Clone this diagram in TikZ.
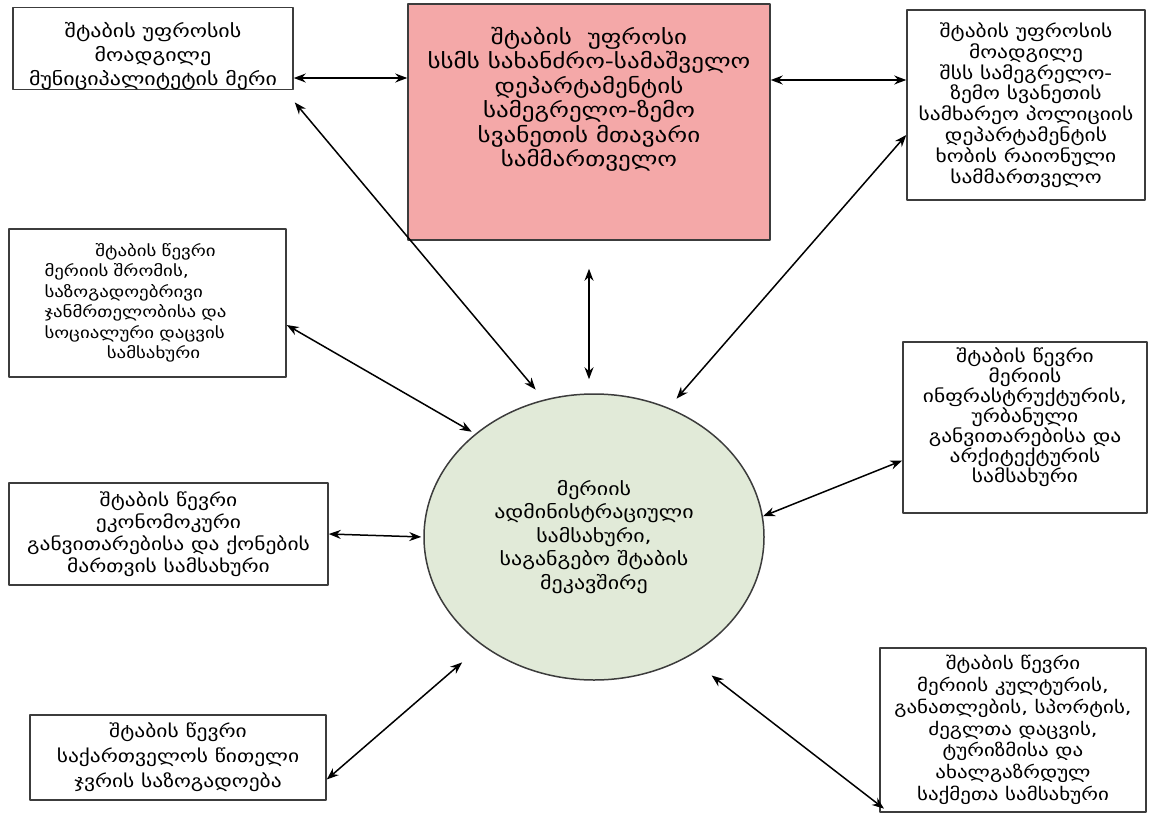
\documentclass[tikz,border=0pt]{standalone}
\usepackage{fontspec}
\setmainfont{DejaVu Sans}[FakeStretch=1.22]
\usetikzlibrary{shapes.geometric,arrows.meta}
\definecolor{pinkbox}{RGB}{244,168,168}
\definecolor{greenell}{RGB}{225,234,216}
\definecolor{edge}{RGB}{60,60,60}
\tikzset{
  box/.style={draw=edge, line width=1.5pt, fill=white, align=center, inner sep=0pt,
    font=\fontsize{17.6}{20.5}\selectfont},
  link/.style={<->, line width=1.5pt},
}
\begin{document}
\begin{tikzpicture}[x=1pt,y=-1pt,>={Stealth[length=12pt,width=9pt]},line join=round]
\useasboundingbox (0,0) rectangle (1149,822);
% boxes
\node[box,minimum width=280pt,minimum height=81pt,font=\fontsize{18}{24}\selectfont] (A) at (153,48.5)
  {\rule{0pt}{30pt}შტაბის უფროსის\\მოადგილე\\მუნიციპალიტეტის მერი};
\node[box,fill=pinkbox,minimum width=362pt,minimum height=236pt,font=\fontsize{20.5}{24.5}\selectfont] (P) at (589,122)
  {შტაბის~~უფროსი\\სსმს სახანძრო-სამაშველო\\დეპარტამენტის\\სამეგრელო-ზემო\\სვანეთის მთავარი\\სამმართველო\\[26pt]\mbox{}};
\node[box,minimum width=238pt,minimum height=190pt,font=\fontsize{17.6}{20.8}\selectfont] (B) at (1026,105)
  {შტაბის უფროსის\\მოადგილე\\შსს სამეგრელო-\\ზემო სვანეთის\\სამხარეო პოლიციის\\დეპარტამენტის\\ხობის რაიონული\\სამმართველო};
\node[box,minimum width=277pt,minimum height=148pt,text width=206pt,align=left,font=\fontsize{15.5}{20.5}\selectfont] (C) at (147.5,303)
  {\makebox[\hsize]{\hspace{16pt}შტაბის~წევრი}\\მერიის~შრომის,\\საზოგადოებრივი\\ჯანმრთელობისა~და\\სოციალური~დაცვის\\\makebox[\hsize]{\hspace{12pt}სამსახური}};
\node[box,minimum width=319pt,minimum height=102pt,font=\fontsize{17.6}{22}\selectfont] (D) at (168.5,534)
  {შტაბის წევრი\\ეკონომოკური\\განვითარებისა და ქონების\\მართვის სამსახური};
\node[box,minimum width=296pt,minimum height=85pt,font=\fontsize{17.6}{25}\selectfont] (E) at (178,757.5)
  {შტაბის წევრი\\საქართველოს წითელი\\ჯვრის საზოგადოება};
\node[box,minimum width=244pt,minimum height=171pt,font=\fontsize{17.6}{20}\selectfont] (F) at (1025,427.5)
  {შტაბის წევრი\\მერიის\\ინფრასტრუქტურის,\\ურბანული\\განვითარებისა და\\არქიტექტურის\\სამსახური\\[4pt]\mbox{}};
\node[box,minimum width=266pt,minimum height=164pt,font=\fontsize{17.2}{21.8}\selectfont] (G) at (1013,730)
  {შტაბის წევრი\\მერიის კულტურის,\\განათლების, სპორტის,\\ძეგლთა დაცვის,\\ტურიზმისა და\\ახალგაზრდულ\\საქმეთა სამსახური};
% centre
\node[ellipse,draw=edge,line width=1.5pt,fill=greenell,minimum width=340pt,minimum height=286pt,inner sep=0pt,
  align=center,font=\fontsize{18}{23.5}\selectfont] (M) at (594,537)
  {მერიის\\ადმინისტრაციული\\სამსახური,\\საგანგებო შტაბის\\მეკავშირე};
% connectors
\draw[link] ([yshift=-29.5pt]A.east) -- ([yshift=-29.5pt]A.east -| P.west);
\draw[link] ([yshift=42pt]P.east) -- ([yshift=42pt]P.east -| B.west);
\draw[link,shorten >=13pt] ([shift={(1,12)}]A.south east) -- (M.110);
\draw[link,shorten <=28pt,shorten >=14pt] (P.south) -- (P.south |- M.north);
\draw[link,shorten >=12pt] ([yshift=-30pt]B.west) -- (M.60);
\draw[link,shorten >=4pt] ([yshift=-22pt]C.east) -- (M.139);
\draw[link,shorten >=2pt] (D.east) -- (M.west);
\draw[link,shorten >=26pt] ([yshift=-22pt]E.east) -- (M.224);
\draw[link] ([yshift=-33pt]F.west) -- (M.7);
\draw[link,shorten <=-6pt,shorten >=30pt] ([yshift=-75pt]G.west) -- (M.-52);
\end{tikzpicture}
\end{document}
